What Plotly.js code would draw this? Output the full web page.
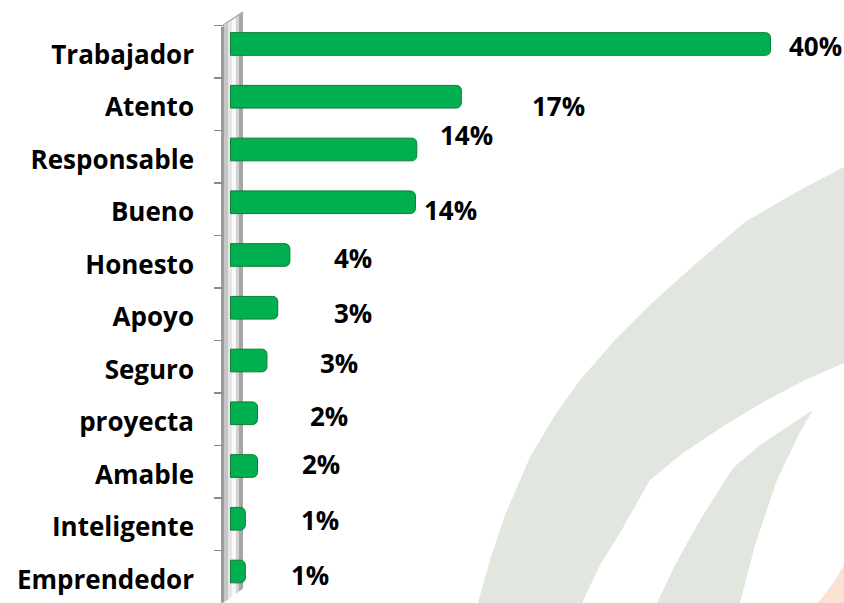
<!DOCTYPE html>
<html>
<head>
<meta charset="utf-8">
<script src="https://cdn.plot.ly/plotly-3.0.1.min.js"></script>
<style>html,body{margin:0;padding:0;background:#fff;}#chart{width:844px;height:603px;}</style>
</head>
<body>
<div id="chart"></div>
<script>
// ---- data ----
const categories = ["Trabajador","Atento","Responsable","Bueno","Honesto","Apoyo","Seguro","proyecta","Amable","Inteligente","Emprendedor"];
const values = [40, 17.1, 13.8, 13.7, 4.4, 3.5, 2.7, 2.0, 2.0, 1.1, 1.1];
const valueLabels = ["40%","17%","14%","14%","4%","3%","3%","2%","2%","1%","1%"];

// ---- label placement (pixel offsets from bar end / bar centre) ----
const labelDx = [16, 69, 21, 7, 42, 54, 51, 50, 42, 54, 44];
const labelDy = [2.5, 9, -14, 7.5, 2.5, 5.5, 2.5, 3, -2, 1, 3.5];

// ---- layout geometry ----
const W = 844, H = 603;
const L = 223;            // plot-area left edge (px)
const zeroPx = 230.5;     // x position of 0%
const pxPerPct = 13.5;
const plotW = W - L;
const xRange = [(L - zeroPx) / pxPerPct, (W - zeroPx) / pxPerPct];
const px2x = px => (px - L) / plotW;      // paper x
const py2y = py => 1 - py / H;            // paper y
const dom = (top, bot) => [py2y(bot), py2y(top)];
const catRange = [categories.length - 0.5, -0.5];

const FONT = "'Open Sans', 'Liberation Sans', Arial, sans-serif";
const FSIZE = 26;

// ---- background watermark and 3D wall (decoration) ----
function path(pts) {
  return pts.map((p, i) => (i ? "L" : "M") + px2x(p[0]).toFixed(5) + "," + py2y(p[1]).toFixed(5)).join(" ") + " Z";
}
const shapes = [];
const wmGray = "#e1e6df";
shapes.push({type: "path", xref: "paper", yref: "paper", layer: "below", line: {width: 0}, fillcolor: wmGray,
  path: path([[478,603],[490,560],[505,515],[530,457],[555,415],[580,380],[615,340],[653,302],[700,260],[745,222],[800,190],[844,167],[844,363],[805,380],[767,400],[725,425],[683,453],[650,480],[620,533],[600,565],[582,603]])});
shapes.push({type: "path", xref: "paper", yref: "paper", layer: "below", line: {width: 0}, fillcolor: wmGray,
  path: path([[813,410],[790,425],[760,445],[733,468],[700,520],[675,565],[657,603],[740,603],[755,545],[777,480],[800,432]])});
shapes.push({type: "path", xref: "paper", yref: "paper", layer: "below", line: {width: 0}, fillcolor: "#fbe1d3",
  path: path([[844,565],[832,585],[818,603],[844,603]])});

// wall strips (slanted parallelogram)
const slope = 0.72;
const strips = [[221,224,"#9a9a9a"],[224,228,"#c6c6c6"],[228,232,"#e6e6e6"],[232,236,"#f8f8f8"],[236,239,"#d2d2d2"],[239,243,"#a6a6a6"]];
strips.forEach(s => {
  const x0 = s[0], x1 = s[1];
  const t0 = 27 - (x0 - 223) * slope, t1 = 27 - (x1 - 223) * slope;
  const b0 = 603 - (x0 - 223) * slope, b1 = 603 - (x1 - 223) * slope;
  shapes.push({type: "path", xref: "paper", yref: "paper", layer: "below", line: {width: 0}, fillcolor: s[2],
    path: path([[x0, Math.min(t0, 27)],[x1, t1],[x1, b1],[x0, x0 < 224 ? 603 : b0]])});
});
shapes.push({type: "line", xref: "paper", yref: "paper", layer: "below", line: {color: "#a0a0a0", width: 1.5},
  x0: px2x(222), y0: py2y(26), x1: px2x(243), y1: py2y(12)});

// ---- traces ----
const bars = {
  type: "bar", orientation: "h", x: values, y: categories, yaxis: "y",
  width: 0.43,
  marker: {color: "#00b050", line: {color: "#0c7d36", width: 1}, cornerradius: 5},
  hoverinfo: "x+y", showlegend: false
};
const labelAxisTrace = {
  type: "scatter", mode: "markers", x: categories.map(() => 0), y: categories, yaxis: "y2",
  marker: {opacity: 0}, hoverinfo: "skip", showlegend: false
};

const annotations = categories.map((c, i) => ({
  xref: "x", yref: "y", x: values[i], y: c,
  text: valueLabels[i], showarrow: false, xanchor: "left", yanchor: "middle",
  xshift: labelDx[i], yshift: -labelDy[i],
  font: {family: FONT, size: FSIZE, color: "#000", weight: "bold"}
}));

const layout = {
  width: W, height: H,
  margin: {l: L, r: 0, t: 0, b: 0, pad: 0},
  paper_bgcolor: "#ffffff", plot_bgcolor: "rgba(0,0,0,0)",
  xaxis: {range: xRange, visible: false, fixedrange: true, anchor: "y"},
  yaxis: {type: "category", categoryarray: categories, range: catRange,
          domain: dom(17.6, 597.9), showticklabels: false, ticks: "", showgrid: false,
          zeroline: false, showline: false, anchor: "x"},
  yaxis2: {type: "category", categoryarray: categories, range: catRange,
           domain: dom(25.5, 603), anchor: "x", showgrid: false, zeroline: false, showline: false,
           ticks: "outside", tickson: "boundaries", ticklen: 8, tickwidth: 1.5, tickcolor: "#8a8a8a",
           ticklabelstandoff: 28, ticklabelshift: -3,
           tickfont: {family: FONT, size: FSIZE, color: "#000", weight: "bold"}},
  shapes: shapes,
  annotations: annotations,
  bargap: 0.57
};

Plotly.newPlot("chart", [bars, labelAxisTrace], layout, {displayModeBar: false, staticPlot: true});
</script>
</body>
</html>
